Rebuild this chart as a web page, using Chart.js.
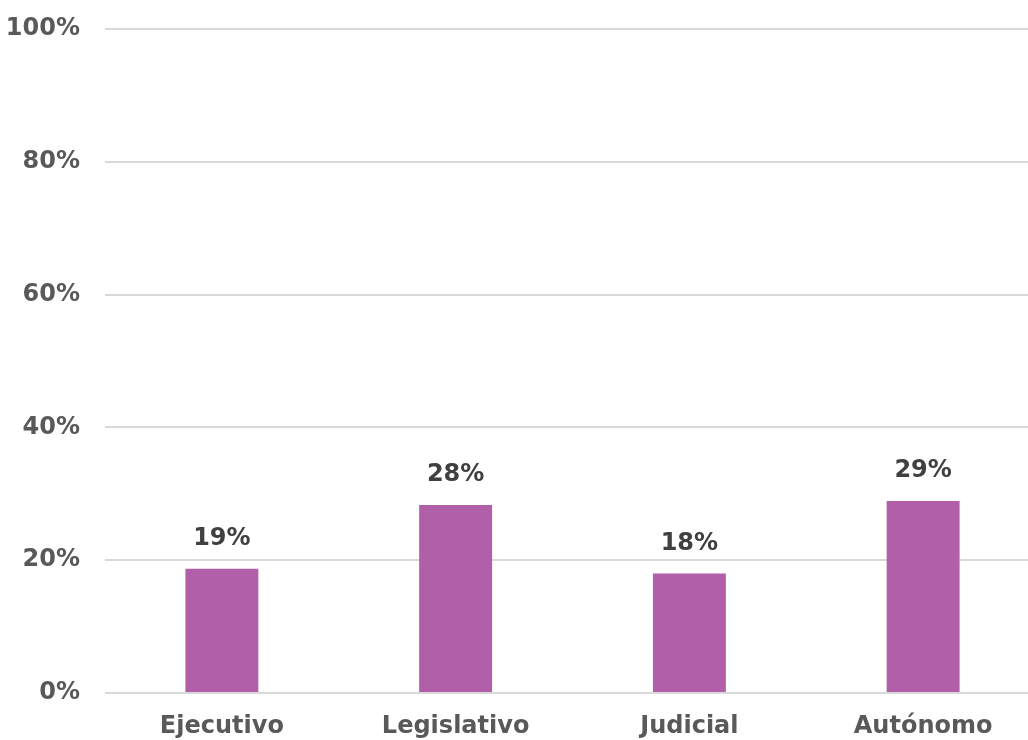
<!DOCTYPE html>
<html>
<head>
<meta charset="utf-8">
<script src="https://cdn.jsdelivr.net/npm/chart.js@4/dist/chart.umd.min.js"></script>
<style>
    body { margin: 0; background: #fff; overflow: hidden; }
    #caja { width: 1028px; height: 740px; overflow: hidden; position: relative; }
</style>
</head>
<body>
<div id="caja">
    <canvas id="graficoPoderes" width="1045" height="740"></canvas>
</div>
<script>
const categorias = ['Ejecutivo', 'Legislativo', 'Judicial', 'Autónomo']
const valores = [18.7, 28.3, 18.0, 28.9]
const etiquetas = ['19%', '28%', '18%', '29%']
const ticksY = [0, 20, 40, 60, 80, 100]

const fuente = 'DejaVu Sans'

// dibuja el porcentaje encima de cada barra
const pluginEtiquetas = {
    id: 'etiquetas',
    afterDatasetsDraw(chart) {
        const ctx = chart.ctx
        const meta = chart.getDatasetMeta(0)
        ctx.save()
        ctx.font = `bold 24px "${fuente}"`
        ctx.fillStyle = '#404040'
        ctx.textAlign = 'center'
        ctx.textBaseline = 'middle'
        meta.data.forEach(function (barra, i) {
            ctx.fillText(etiquetas[i], barra.x, barra.y - 30)
        })
        ctx.restore()
    }
}

new Chart(document.getElementById('graficoPoderes'), {
    type: 'bar',
    data: {
        labels: categorias,
        datasets: [
            {
                data: valores,
                backgroundColor: '#B05FA8',
                borderWidth: 0,
                categoryPercentage: 1,
                barPercentage: 0.312
            }
        ]
    },
    options: {
        responsive: false,
        animation: false,
        layout: {
            padding: { top: 0, right: 5, left: 0, bottom: 0 }
        },
        plugins: {
            legend: { display: false },
            tooltip: { enabled: false }
        },
        scales: {
            y: {
                min: 0,
                max: 100,
                afterBuildTicks: function (eje) {
                    eje.ticks = ticksY.map(function (v) { return { value: v } })
                },
                afterFit: function (eje) {
                    eje.width = 105
                    eje.paddingTop = 29
                    eje.paddingBottom = 0
                },
                border: { display: false },
                grid: {
                    color: '#d9d9d9',
                    lineWidth: 2,
                    drawTicks: false
                },
                ticks: {
                    padding: 25,
                    color: '#595959',
                    font: { family: fuente, size: 24, weight: 'bold' },
                    callback: function (v) { return v + '%' }
                }
            },
            x: {
                border: { display: false },
                grid: { display: false, drawTicks: false },
                afterFit: function (eje) { eje.height = 47 },
                ticks: {
                    padding: 19,
                    color: '#595959',
                    font: { family: fuente, size: 24, weight: 'bold' }
                }
            }
        }
    },
    plugins: [pluginEtiquetas]
})
</script>
</body>
</html>
